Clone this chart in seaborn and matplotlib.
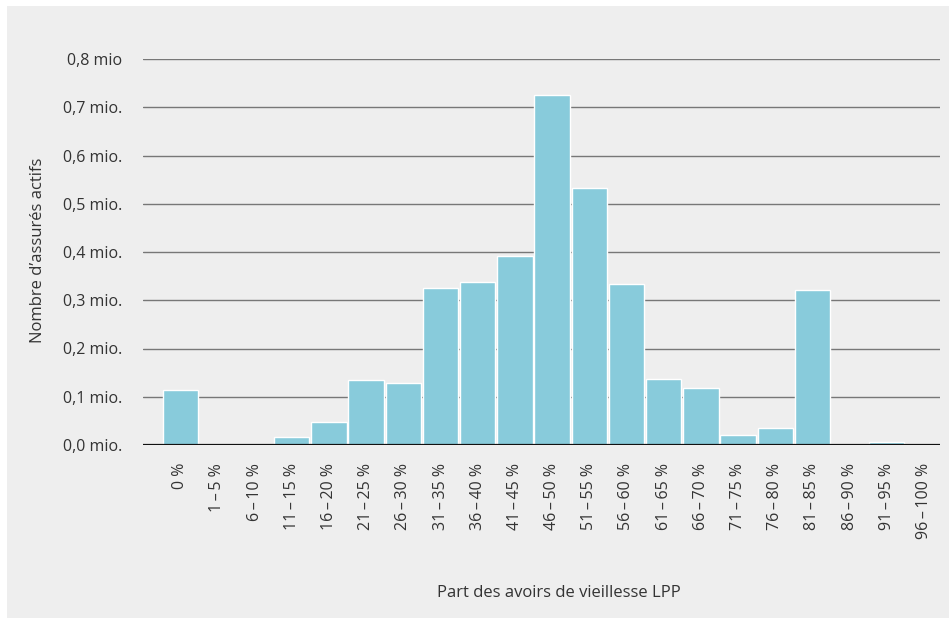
import matplotlib
matplotlib.use("Agg")
import matplotlib.pyplot as plt
import seaborn as sns
import pandas as pd
from matplotlib.patches import Rectangle

# data (millions of active insured)
categories = ["0 %", "1\u2009–\u20095 %", "6\u2009–\u200910 %", "11\u2009–\u200915 %",
              "16\u2009–\u200920 %", "21\u2009–\u200925 %", "26\u2009–\u200930 %",
              "31\u2009–\u200935 %", "36\u2009–\u200940 %", "41\u2009–\u200945 %",
              "46\u2009–\u200950 %", "51\u2009–\u200955 %", "56\u2009–\u200960 %",
              "61\u2009–\u200965 %", "66\u2009–\u200970 %", "71\u2009–\u200975 %",
              "76\u2009–\u200980 %", "81\u2009–\u200985 %", "86\u2009–\u200990 %",
              "91\u2009–\u200995 %", "96\u2009–\u2009100 %"]
values = [0.114, 0.0, 0.0, 0.017, 0.048, 0.135, 0.128, 0.325, 0.338, 0.392, 0.725,
          0.533, 0.334, 0.137, 0.118, 0.021, 0.035, 0.321, 0.0, 0.006, 0.0]
y_ticks = [0.0, 0.1, 0.2, 0.3, 0.4, 0.5, 0.6, 0.7, 0.8]
y_labels = ["0,0 mio.", "0,1 mio.", "0,2 mio.", "0,3 mio.", "0,4 mio.", "0,5 mio.",
            "0,6 mio.", "0,7 mio.", "0,8 mio"]

df = pd.DataFrame({"cat": categories, "val": values})

sns.set_style("white")
plt.rcParams["font.family"] = ["Open Sans", "DejaVu Sans"]

fig = plt.figure(figsize=(9.49, 6.2), dpi=100)
fig.patch.set_facecolor("white")
# gray panel behind everything
fig.patches.append(Rectangle((7 / 949, 0.003), 1, (620 - 6) / 620 - 0.003,
                             transform=fig.transFigure, facecolor="#eeeeee",
                             edgecolor="none", zorder=-5))

ax = fig.add_axes([143 / 949, 1 - 445 / 620, (940 - 143) / 949, (445 - 59) / 620])
ax.set_facecolor("none")
ax.set_zorder(2)

sns.barplot(data=df, x="cat", y="val", color="#88cbdb", saturation=1, width=0.95,
            ax=ax, zorder=3)

for y in y_ticks[1:]:
    ax.axhline(y, color="#777777", lw=1.0, zorder=1)
ax.axhline(0, color="#111111", lw=1.6, zorder=4)

ax.set_xlim(-1.0, 20.43)
ax.set_ylim(0, 0.8)
ax.set_yticks(y_ticks)
ax.set_yticklabels(y_labels)
ax.tick_params(axis="y", length=0, pad=15, labelsize=11.5, labelcolor="#333333")
ax.tick_params(axis="x", length=0, pad=13, labelsize=11.5, labelcolor="#333333",
               labelrotation=90)
for lbl in ax.get_xticklabels():
    lbl.set_verticalalignment("top")
for s in ax.spines.values():
    s.set_visible(False)
ax.set_xlabel("")
ax.set_ylabel("")

fig.text(38 / 949, 1 - 250 / 620, "Nombre d’assurés actifs", rotation=90,
         ha="center", va="center", fontsize=12, color="#333333")
fig.text(559 / 949, 1 - 593 / 620, "Part des avoirs de vieillesse LPP",
         ha="center", va="center", fontsize=12, color="#333333")

fig.savefig("out.png", dpi=100)
